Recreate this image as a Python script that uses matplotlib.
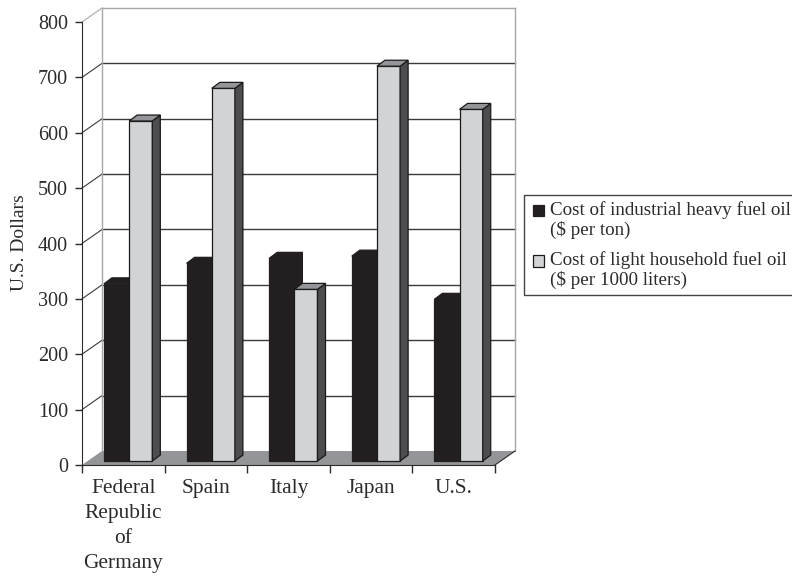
import numpy as np
import matplotlib
matplotlib.use("Agg")
import matplotlib.pyplot as plt

plt.rcParams["font.family"] = ["Liberation Serif", "DejaVu Serif"]

countries = ["Federal\nRepublic\nof\nGermany", "Spain", "Italy", "Japan", "U.S."]
heavy_oil = [320, 357, 366, 370, 292]
light_oil = [614, 673, 310, 713, 635]
y_ticks = [0, 100, 200, 300, 400, 500, 600, 700, 800]
heavy_label = "Cost of industrial heavy fuel oil\n($ per ton)"
light_label = "Cost of light household fuel oil\n($ per 1000 liters)"

DARK, LIGHT, SIDE, TOP = "#231f20", "#d1d3d4", "#4d4d4f", "#939598"
INK = "#2b2b2b"

# fake 3d: wall offset and bar depth, in data units
wall_dx, wall_dy = 0.242, 25.3
bar_dx, bar_dy = 0.097, 10.8
base = 7.2
gap, w_heavy, w_light = 0.266, 0.305, 0.28

fig = plt.figure(figsize=(7.92, 5.76), dpi=100)
ax = fig.add_axes([82/792, 111/576, 433/792, 457/576])
ax.set_xlim(0, 5 + wall_dx)
ax.set_ylim(0, 800 + wall_dy)
ax.patch.set_visible(False)

# floor
ax.fill([0, 5, 5 + wall_dx, wall_dx], [0, 0, wall_dy, wall_dy], color=TOP, lw=0, zorder=1)

# back wall and grid
for v in y_ticks[1:]:
    c = "#a8a8a8" if v == 800 else "#3a3a3a"
    ax.plot([wall_dx, 5 + wall_dx], [v + wall_dy]*2, color=c, lw=1, zorder=1, clip_on=False)
    ax.plot([0, wall_dx], [v, v + wall_dy], color=c, lw=0.8, zorder=1, clip_on=False)
ax.plot([wall_dx]*2, [wall_dy, 800 + wall_dy], color="#a8a8a8", lw=1, zorder=1, clip_on=False)
ax.plot([5 + wall_dx]*2, [wall_dy, 800 + wall_dy], color="#a8a8a8", lw=1, zorder=1, clip_on=False)
ax.plot([5, 5 + wall_dx], [0, wall_dy], color=INK, lw=0.8, zorder=1, clip_on=False)


def bar3d(x, w, v, front, side, top, edge, z, label):
    ax.bar(x, v, w, bottom=base, align="edge", color=front, edgecolor=edge, lw=0.9, zorder=z, label=label)
    y = base + v
    ax.fill([x + w, x + w + bar_dx, x + w + bar_dx, x + w],
            [base, base + bar_dy, y + bar_dy, y], facecolor=side, edgecolor=edge, lw=0.9, zorder=z)
    ax.fill([x, x + w, x + w + bar_dx, x + bar_dx],
            [y, y, y + bar_dy, y + bar_dy], facecolor=top, edgecolor=edge, lw=0.9, zorder=z)


for i in range(len(countries)):
    x = i + gap
    bar3d(x, w_heavy, heavy_oil[i], DARK, DARK, DARK, DARK, 3,
          heavy_label if i == 0 else None)
    bar3d(x + w_heavy, w_light, light_oil[i], LIGHT, SIDE, TOP, "#1a1a1a", 4,
          light_label if i == 0 else None)

# axes
for s in ["top", "right"]:
    ax.spines[s].set_visible(False)
ax.spines["left"].set_bounds(0, 800)
ax.spines["bottom"].set_bounds(0, 5)
ax.spines["left"].set_color(INK)
ax.spines["bottom"].set_color(INK)
ax.spines["left"].set_zorder(6)
ax.spines["bottom"].set_zorder(6)

ax.set_yticks(y_ticks)
ax.tick_params(axis="y", length=5, width=1, color=INK, labelsize=14.5, labelcolor=INK, pad=5)
ax.set_xticks(np.arange(6))
ax.set_xticklabels([])
ax.set_xticks(np.arange(5) + 0.5, minor=True)
ax.set_xticklabels(countries, minor=True, fontsize=15.4, color=INK, linespacing=1.42)
ax.tick_params(axis="x", which="major", length=5.5, width=1, color=INK)
ax.tick_params(axis="x", which="minor", length=0, pad=10)
ax.set_ylabel("U.S. Dollars", fontsize=14, color=INK)
ax.yaxis.set_label_coords(-0.125, 0.487)

leg = fig.legend(loc="upper left", bbox_to_anchor=(524/792, 1 - 195/576), borderaxespad=0,
                 fontsize=13.7, handlelength=0.55, handleheight=0.55, handletextpad=0.52,
                 labelspacing=0.66, borderpad=0.3, fancybox=False, framealpha=1,
                 edgecolor="#444444")
leg.get_frame().set_linewidth(1)
for t in leg.get_texts():
    t.set_color(INK)
    t.set_linespacing(1.15)
# swatch sits beside the first text line, not centred on both
for h in leg.legend_handles:
    h.set_y(h.get_y() + 6.5)
    h.set_x(h.get_x() + 2.5)

fig.savefig("out.png", dpi=100)
